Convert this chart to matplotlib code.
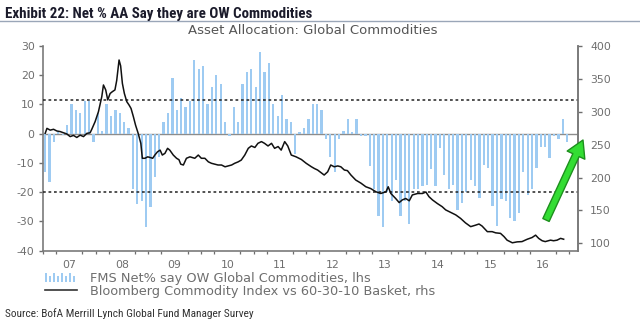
import matplotlib
matplotlib.use('Agg')
import matplotlib.pyplot as plt
from matplotlib.patches import Rectangle, FancyArrowPatch
from matplotlib.lines import Line2D
from matplotlib.legend_handler import HandlerBase

plt.rcParams['axes.unicode_minus'] = False

# FMS net % overweight commodities, monthly from Jan 2007 (lhs)
fms_net = [-13, -16.5, -3, 0.5, -0.5, 3, 10, 8, 7, 11,
           11, -3, 7, 1, 10, 6, 8, 7, 4, 2,
           -19, -24, -23, -32, -25, -15, -8, 4, 7, 19,
           8, 12, 9, 11, 25, 22, 23, 10, 16, 20,
           17, 4, -1, 9, 4, 17, 21, 22, 16, 28,
           21, 24, 10, 6, 13, 5, 4, -7, 0.5, 2,
           5, 10, 10, 8, -2, -8, -13, -2, 1, 5,
           0.5, 5, -1, -1, -11, -19, -28, -32, -20, -23,
           -16, -28, -23, -31, -19, -19, -18, -17.4, -12, -18,
           -5, -14, -19, -17.4, -26, -23.6, -20, -16, -18, -22,
           -10.7, -11.8, -24.7, -31.5, -22.5, -23, -28.7, -29.8, -27, -13,
           -21, -19, -11.8, -4.5, -4.5, -8.4, -1, -2, 5, -3]

# Bloomberg Commodity Index vs 60-30-10 basket (rhs), month index -> value
line_t = [0, 0.4, 1.15, 1.9, 2.66, 3.42, 4.18, 4.94, 5.69, 6.45,
          7.21, 7.97, 8.73, 9.49, 10.24, 10.62, 11.38, 12.14, 12.9, 13.28,
          13.8, 14.26, 14.8, 15.3, 15.9, 16.3, 16.84, 17.2, 17.6, 18.05,
          18.6, 19.1, 19.57, 20.1, 20.6, 21.2, 21.8, 22.15, 22.75, 23.36,
          23.9, 24.5, 25.0, 25.6, 26.2, 26.7, 27.3, 27.9, 28.4, 29.2,
          29.95, 30.5, 30.9, 31.5, 32.2, 33.0, 34.1, 34.9, 35.6, 36.4,
          37.2, 37.9, 38.7, 39.4, 40.2, 41.0, 41.7, 42.5, 43.2, 44.0,
          44.7, 45.5, 46.3, 47.0, 47.8, 48.5, 49.3, 50.0, 50.8, 51.6,
          52.3, 53.1, 53.8, 54.6, 55.3, 56.1, 57.2, 58.4, 59.5, 60.7,
          61.4, 62.1, 62.9, 63.6, 64.4, 65.1, 65.9, 66.7, 67.4, 68.2,
          68.9, 69.7, 70.8, 72.0, 73.1, 74.2, 75.4, 76.5, 77.7, 78.2,
          78.8, 79.9, 80.7, 81.4, 82.2, 83.0, 83.7, 84.9, 86.0, 86.8,
          87.5, 88.3, 89.4, 90.5, 91.3, 92.1, 93.6, 94.7, 95.8, 97.0,
          98.1, 98.9, 99.6, 100.8, 101.9, 102.7, 103.8, 104.6, 105.3, 106.5,
          107.6, 108.7, 109.9, 111.0, 111.8, 112.5, 113.3, 114.0, 115.2, 115.9,
          116.7, 117.5, 118.2]
line_v = [267, 274.6, 271.9, 273.2, 270.6, 269.7, 267.9, 266.1, 262.1, 263.9,
          260.8, 264.3, 262.1, 267, 267.9, 273.2, 284.8, 299.9, 322.6, 340.4,
          332.9, 317.7, 327.5, 330.2, 332.9, 347.1, 378.3, 369.4, 342.7, 327.5,
          315.1, 310.2, 304.8, 292.4, 279.5, 267, 251.9, 229.2, 229.2, 231.4,
          230.5, 229.2, 234.1, 239, 241.6, 234.1, 236.7, 244.3, 241.6, 234.1,
          229.2, 227, 220.3, 219, 229.2, 231.4, 229.2, 234.1, 229.2, 229.2,
          223.8, 221.6, 220.3, 219, 219, 216.3, 217.6, 219, 221.6, 223.8,
          226.5, 234.1, 244.3, 247.9, 245.6, 251.9, 254.5, 251.9, 247.9, 251.9,
          244.3, 247, 241.6, 254.5, 247.9, 234.1, 231.4, 227.4, 221.6, 216.3,
          213.6, 211.4, 207.4, 203.8, 208.7, 219, 216.3, 217.6, 216.3, 211.4,
          210.5, 203.8, 196.2, 191.4, 186, 183.3, 178.4, 175.8, 178.4, 186,
          175.8, 168.2, 162, 166, 168.2, 164.7, 173.6, 175.8, 175.8, 178,
          170.9, 166, 160.6, 155.8, 150.9, 148.2, 143.3, 138, 131.3, 125.5,
          127.7, 129.5, 126.4, 117.9, 117.9, 116.1, 115.3, 110.4, 105, 101,
          102.4, 102.8, 106.4, 109, 112.6, 107.7, 104.1, 102.8, 105, 104.1,
          105, 107.7, 106.4]

year_labels = ['07', '08', '09', '10', '11', '12', '13', '14', '15', '16']
upper_band = 11.5
lower_band = -20

bar_color = '#9ecbf2'
grey = '#6e6e6e'
wide_font = ['DejaVu Sans']
narrow_font = ['Roboto Condensed', 'Liberation Sans', 'DejaVu Sans']


class BarIconHandler(HandlerBase):
    """凡例用の細い棒アイコン"""
    def create_artists(self, legend, orig_handle, xdescent, ydescent,
                       width, height, fontsize, trans):
        arts = []
        n = 8
        for k in range(n):
            h = height * (1.0 if k % 2 == 0 else 0.7)
            arts.append(Rectangle((-xdescent + k * width / n, -ydescent),
                                  width / n * 0.5, h,
                                  facecolor=bar_color, edgecolor='none',
                                  transform=trans))
        return arts


fig = plt.figure(figsize=(6.4, 3.31), dpi=100)
W, H = 640.0, 331.0

ax = fig.add_axes([43 / W, 1 - 250.7 / H, (577.7 - 43) / W, (250.7 - 45.7) / H])
ax2 = ax.twinx()

x = list(range(len(fms_net)))
ax.bar(x, fms_net, width=0.52, color=bar_color, zorder=2)

# 0ライン と 帯
ax.axhline(0, color='#8c8c8c', linewidth=1.0, zorder=1)
ax.axhline(upper_band, color='#222222', linewidth=1.1, linestyle=(0, (1.8, 1.8)), zorder=3)
ax.axhline(lower_band, color='#222222', linewidth=1.1, linestyle=(0, (1.8, 1.8)), zorder=3)

ax2.plot(line_t, line_v, color='#111111', linewidth=1.1)

ax.set_xlim(-0.3, 121.4)
ax.set_ylim(-40, 30)
ax2.set_ylim(89, 400)

ax.set_yticks(range(-40, 31, 10))
ax2.set_yticks(range(100, 401, 50))

# X軸: 年ラベルは年の中央、目盛は四半期ごと
ax.set_xticks([12 * k + 5.5 for k in range(len(year_labels))])
ax.set_xticklabels(year_labels)
ax.set_xticks([3 * k - 0.5 for k in range(41)], minor=True)
ax.tick_params(axis='x', which='major', length=0, pad=7)
ax.tick_params(axis='x', which='minor', length=2.5, width=0.9, color=grey)

ax.tick_params(axis='y', length=3, width=1.0, color=grey, pad=3)
ax2.tick_params(axis='y', length=3, width=1.0, color=grey, pad=6)

for a in (ax, ax2):
    for lab in a.get_xticklabels() + a.get_yticklabels():
        lab.set_fontfamily(wide_font)
        lab.set_fontsize(7.8)
        lab.set_color(grey)
    a.spines['top'].set_visible(False)
    for s in ('left', 'right', 'bottom'):
        a.spines[s].set_color('#7a7a7a')
        a.spines[s].set_linewidth(1.2)
ax2.spines['left'].set_visible(False)
ax2.spines['bottom'].set_visible(False)

# 凡例
handles = [Rectangle((0, 0), 1, 1), Line2D([], [], color='#333333', linewidth=1.2)]
labels = ['FMS Net% say OW Global Commodities, lhs',
          'Bloomberg Commodity Index vs 60-30-10 Basket, rhs']
leg = ax.legend(handles, labels, loc='upper left',
                bbox_to_anchor=(45 / W, 1 - 272 / H), bbox_transform=fig.transFigure,
                frameon=False, handlelength=2.5, handletextpad=1.0,
                labelspacing=0.0, borderpad=0, borderaxespad=0,
                handler_map={Rectangle: BarIconHandler()},
                prop={'family': wide_font, 'size': 9.3})
for t in leg.get_texts():
    t.set_color(grey)

# タイトル
fig.text(5 / W, 1 - 18 / H, 'Exhibit 22: Net % AA Say they are OW Commodities',
         fontsize=10.8, fontweight='bold', family=narrow_font, color='#1b1b2b',
         va='baseline', ha='left')
fig.add_artist(Line2D([0, 1], [1 - 21.2 / H, 1 - 21.2 / H], color='#9aa6b8',
                      linewidth=1.0, transform=fig.transFigure))
fig.text(313 / W, 1 - 34.5 / H, 'Asset Allocation: Global Commodities',
         fontsize=9.5, family=wide_font, color='#555555',
         va='baseline', ha='center')
fig.text(5 / W, 1 - 317 / H, 'Source: BofA Merrill Lynch Global Fund Manager Survey',
         fontsize=8.2, family=narrow_font, color='#333333',
         va='baseline', ha='left')

# 緑の矢印
arrow = FancyArrowPatch((546 / W, 1 - 220 / H), (583 / W, 1 - 140 / H),
                        transform=fig.transFigure,
                        arrowstyle='simple,head_length=12,head_width=14,tail_width=5',
                        mutation_scale=1, shrinkA=0, shrinkB=0,
                        facecolor='#33dd33', edgecolor='#1d8f1d',
                        linewidth=1.0, joinstyle='round', capstyle='round')
fig.add_artist(arrow)

fig.savefig('out.png', dpi=100)
plt.close(fig)
